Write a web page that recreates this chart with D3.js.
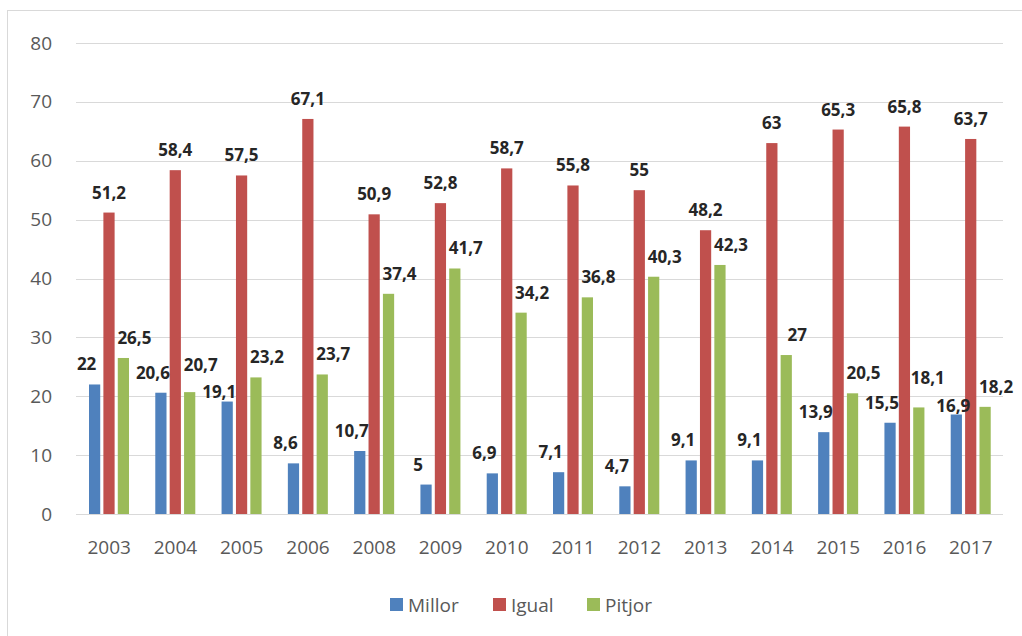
<!DOCTYPE html>
<html>
<head>
<meta charset="utf-8">
<style>
body { margin: 0; background: #fff; }
svg { display: block; font-family: "Open Sans", sans-serif; }
</style>
</head>
<body>
<svg width="1022" height="636"></svg>
<script src="https://d3js.org/d3.v7.min.js"></script>
<script>
var years = ["2003", "2004", "2005", "2006", "2008", "2009", "2010", "2011", "2012", "2013", "2014", "2015", "2016", "2017"];
var millor = [22, 20.6, 19.1, 8.6, 10.7, 5, 6.9, 7.1, 4.7, 9.1, 9.1, 13.9, 15.5, 16.9];
var igual = [51.2, 58.4, 57.5, 67.1, 50.9, 52.8, 58.7, 55.8, 55, 48.2, 63, 65.3, 65.8, 63.7];
var pitjor = [26.5, 20.7, 23.2, 23.7, 37.4, 41.7, 34.2, 36.8, 40.3, 42.3, 27, 20.5, 18.1, 18.2];
var keys = ["Millor", "Igual", "Pitjor"];
var yTicks = [0, 10, 20, 30, 40, 50, 60, 70, 80];

var series = { Millor: millor, Igual: igual, Pitjor: pitjor };
var colors = { Millor: "#4f81bd", Igual: "#c0504d", Pitjor: "#9bbb59" };
// label nudges, the original has Excel's overlap shuffling
var labelDx = { Millor: -8, Igual: 0, Pitjor: 11 };
var labelFix = {
  "2004|Pitjor": [0, -7],
  "2005|Millor": [0, 10],
  "2016|Pitjor": [-2, -9],
  "2017|Millor": [5, 11]
};

var data = years.map(function(y, i) {
  return { year: y, Millor: millor[i], Igual: igual[i], Pitjor: pitjor[i] };
});

var svg = d3.select("svg");

// outer chart frame
svg.append("rect")
    .attr("x", 7.5).attr("y", 10.5)
    .attr("width", 1100).attr("height", 700)
    .attr("fill", "none")
    .attr("stroke", "#d9d9d9");

var x0 = d3.scaleBand().domain(years).range([76, 1004]);
var x1 = d3.scaleBand().domain(keys).range([13, 53]).paddingInner(0.22);
var y = d3.scaleLinear().domain([0, 80]).range([514, 43]);

// grid
svg.append("g")
  .selectAll("line")
  .data(yTicks)
  .enter().append("line")
    .attr("x1", 76).attr("x2", 1003)
    .attr("y1", function(d) { return Math.round(y(d)) + 0.5; })
    .attr("y2", function(d) { return Math.round(y(d)) + 0.5; })
    .attr("stroke", "#d9d9d9")
    .attr("stroke-width", 1.2);

// y axis labels
var yAxis = svg.append("g")
    .attr("transform", "translate(66,0)")
    .call(d3.axisLeft(y).tickValues(yTicks).tickSize(0).tickPadding(14));
yAxis.select(".domain").remove();
yAxis.selectAll("text")
    .attr("font-size", 19)
    .attr("font-family", "Open Sans, sans-serif")
    .attr("fill", "#595959");

// x axis labels
var xAxis = svg.append("g")
    .attr("transform", "translate(0,514)")
    .call(d3.axisBottom(x0).tickSize(0).tickPadding(27));
xAxis.select(".domain").remove();
xAxis.selectAll("text")
    .attr("font-size", 19)
    .attr("font-family", "Open Sans, sans-serif")
    .attr("fill", "#595959");

var groups = svg.append("g")
  .selectAll("g")
  .data(data)
  .enter().append("g")
    .attr("transform", function(d) { return "translate(" + x0(d.year) + ",0)"; });

function cells(d) {
  return keys.map(function(k) { return { year: d.year, key: k, value: d[k] }; });
}
function fix(d, i) {
  var f = labelFix[d.year + "|" + d.key];
  return f ? f[i] : 0;
}

groups.selectAll("rect")
  .data(cells)
  .enter().append("rect")
    .attr("x", function(d) { return x1(d.key); })
    .attr("y", function(d) { return y(d.value); })
    .attr("width", x1.bandwidth())
    .attr("height", function(d) { return y(0) - y(d.value); })
    .attr("fill", function(d) { return colors[d.key]; });

groups.selectAll("text.lbl")
  .data(cells)
  .enter().append("text")
    .attr("class", "lbl")
    .attr("x", function(d) { return x1(d.key) + x1.bandwidth() / 2 + labelDx[d.key] + fix(d, 0); })
    .attr("y", function(d) { return y(d.value) - 14 + fix(d, 1); })
    .attr("text-anchor", "middle")
    .attr("font-size", 17)
    .attr("font-weight", "bold")
    .attr("fill", "#262626")
    .text(function(d) { return String(d.value).replace(".", ","); });

// legend
var legendX = { Millor: 390, Igual: 493, Pitjor: 587 };
var legend = svg.append("g")
  .selectAll("g")
  .data(keys)
  .enter().append("g")
    .attr("transform", function(k) { return "translate(" + legendX[k] + ",598)"; });

legend.append("rect")
    .attr("width", 13).attr("height", 13)
    .attr("fill", function(k) { return colors[k]; });

legend.append("text")
    .attr("x", 18)
    .attr("y", 7)
    .attr("dy", "0.35em")
    .attr("font-size", 19)
    .attr("fill", "#595959")
    .text(function(k) { return k; });
</script>
</body>
</html>
